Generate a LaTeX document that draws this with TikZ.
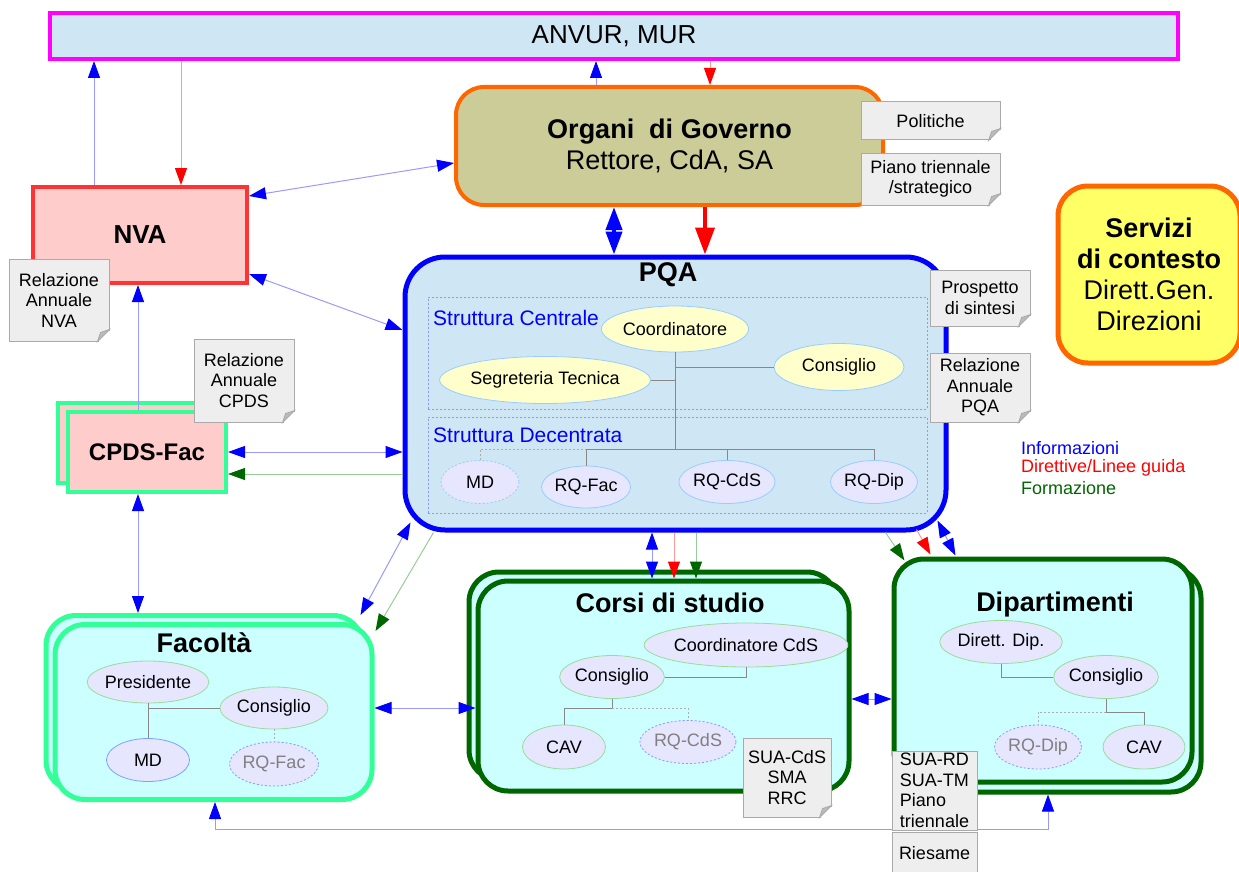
\documentclass[tikz,border=0pt]{standalone}
\usepackage{fontspec}
\setmainfont{Liberation Sans}
\usetikzlibrary{arrows.meta,positioning,shapes.geometric,calc}

\definecolor{skyfill}{HTML}{CFE6F4}
\definecolor{anvurpink}{HTML}{FF00FF}
\definecolor{govorange}{HTML}{FF6600}
\definecolor{govfill}{HTML}{CCCC99}
\definecolor{nvared}{HTML}{FF3333}
\definecolor{nvafill}{HTML}{FFCCCC}
\definecolor{facgreen}{HTML}{33FF99}
\definecolor{cyanfill}{HTML}{CCFFFF}
\definecolor{darkgreen}{HTML}{006600}
\definecolor{servfill}{HTML}{FFFF66}
\definecolor{notefill}{HTML}{EEEEEE}
\definecolor{notedraw}{HTML}{AAAAAA}
\definecolor{folddark}{HTML}{BBBBBB}
\definecolor{ellyellow}{HTML}{FFFFCC}
\definecolor{elllav}{HTML}{E6E6FF}
\definecolor{ellblue}{HTML}{99CCFF}
\definecolor{ellgreen}{HTML}{99DD99}
\definecolor{dashblue}{HTML}{8899FF}
\definecolor{infoblue}{HTML}{0000FF}
\definecolor{dirred}{HTML}{FF0000}
\definecolor{lineblue}{HTML}{9999FF}
\definecolor{linered}{HTML}{FF9999}
\definecolor{linegreen}{HTML}{99CC99}
\definecolor{orggray}{HTML}{888888}

\newcommand{\fbig}{\fontsize{27}{31}\selectfont}
\newcommand{\fnote}{\fontsize{18}{20.5}\selectfont}
\newcommand{\fstruct}{\fontsize{21}{24}\selectfont}

\tikzset{
  ib/.tip={Triangle[length=17pt,width=12pt,color=infoblue,fill=infoblue]},
  dr/.tip={Triangle[length=17pt,width=12pt,color=dirred,fill=dirred]},
  fg/.tip={Triangle[length=17pt,width=12pt,color=darkgreen,fill=darkgreen]},
  ibb/.tip={Triangle[length=23pt,width=16pt,color=infoblue,fill=infoblue]},
  drb/.tip={Triangle[length=27pt,width=19pt,color=dirred,fill=dirred]},
  infoline/.style={draw=lineblue, line width=1pt},
  dirline/.style={draw=linered, line width=1pt},
  formline/.style={draw=linegreen, line width=1pt},
  orgline/.style={draw=orggray, line width=0.8pt},
  orgdots/.style={draw=orggray!70, line width=0.8pt, dash pattern=on 2pt off 2pt},
  anvurbox/.style={rectangle, draw=anvurpink, line width=4pt, fill=skyfill, minimum width=1128pt, minimum height=46pt, font=\fontsize{26}{30}\selectfont},
  govbox/.style={rectangle, rounded corners=28pt, draw=govorange, line width=4pt, fill=govfill, minimum width=427pt, minimum height=118pt, font=\fbig},
  nvabox/.style={rectangle, draw=nvared, line width=4pt, fill=nvafill, minimum width=214pt, minimum height=96pt, font=\fontsize{26}{30}\selectfont\bfseries},
  cpdsbox/.style={rectangle, draw=facgreen, line width=4pt, fill=nvafill, minimum width=158pt, minimum height=80pt, font=\fontsize{24}{28}\selectfont\bfseries},
  pqabox/.style={rectangle, rounded corners=40pt, draw=infoblue, line width=5pt, fill=skyfill, minimum width=541pt, minimum height=273pt},
  structbox/.style={rectangle, draw=dashblue, line width=0.8pt, dash pattern=on 2pt off 2pt, minimum width=499pt},
  structlabel/.style={anchor=west, text=infoblue, font=\fstruct},
  servbox/.style={rectangle, rounded corners=30pt, draw=govorange, line width=5pt, fill=servfill, minimum width=182pt, minimum height=177pt, font=\fbig},
  facbox/.style={rectangle, rounded corners=30pt, draw=facgreen, line width=5pt, fill=cyanfill, minimum width=317pt, minimum height=175pt},
  cdsbox/.style={rectangle, rounded corners=30pt, draw=darkgreen, line width=5pt, fill=cyanfill},
  boxtitle/.style={font=\fbig\bfseries},
  yellell/.style={ellipse, draw=ellblue, line width=0.8pt, fill=ellyellow, font=\fnote},
  lavell/.style={ellipse, draw=ellblue, line width=0.8pt, fill=elllav, font=\fnote},
  greenell/.style={ellipse, draw=ellgreen, line width=0.8pt, fill=elllav, font=\fnote},
  dashell/.style={ellipse, draw=dashblue, line width=0.8pt, dash pattern=on 2pt off 2pt, fill=elllav, text=gray, font=\fnote},
  notebox/.style={rectangle, draw=notedraw, line width=1pt, fill=notefill, font=\fnote},
  legendtext/.style={anchor=west, font=\fnote},
}

\begin{document}
\begin{tikzpicture}[x=1pt,y=1pt,yscale=-1,every node/.style={inner sep=0pt,align=center}]
\useasboundingbox (0,0) rectangle (1239,872);

% ministry and governance
\node[anvurbox] (anvur) at (614,36) {ANVUR, MUR};
\node[govbox] (organi) at (669.5,146) {\textbf{Organi~ di Governo}\\Rettore, CdA, SA};
\node[nvabox] (nva) at (140,235) {NVA};
\node[cpdsbox] (cpdsback) at (137,443) {};
\node[cpdsbox] (cpds) at (147,452) {CPDS-Fac};
\node[servbox] (servizi) at (1149,274.5) {\textbf{Servizi}\\\textbf{di contesto}\\Dirett.Gen.\\Direzioni};

% PQA
\node[pqabox] (pqa) at (675.5,393.5) {};
\node[boxtitle] (pqatitle) at (668,275) {PQA};
\node[structbox, minimum height=112pt] (centrale) at (677.5,353) {};
\node[structbox, minimum height=96pt] (decentrata) at (677.5,465) {};
\node[structlabel] (centlab) at (433,318) {Struttura Centrale};
\node[structlabel] (declab) at (433,435) {Struttura Decentrata};
\node[yellell, minimum width=129pt, minimum height=46pt] (coord) at (675,329) {Coordinatore};
\node[yellell, minimum width=172pt, minimum height=47pt] (segr) at (545,380) {Segreteria Tecnica};
\node[yellell, minimum width=130pt, minimum height=47pt] (pqacons) at (839,367) {Consiglio};
\node[lavell, dash pattern=on 2pt off 2pt, minimum width=78pt, minimum height=43pt] (md) at (480,482) {MD};
\node[lavell, minimum width=82pt, minimum height=42pt] (rqfac) at (586,487) {RQ-Fac};
\node[lavell, minimum width=87pt, minimum height=43pt] (rqcds) at (727,482) {RQ-CdS};
\node[lavell, minimum width=87pt, minimum height=43pt] (rqdip) at (874,482) {RQ-Dip};
\coordinate (pqabus) at ($(rqcds.north)+(0,-11)$);
\draw[orgline] (coord.south) -- (coord.south |- pqabus);
\draw[orgline] (segr.east) -- (segr.east -| coord.south);
\draw[orgline] (pqacons.west) -- (pqacons.west -| coord.south);
\draw[orgline] (rqfac.north) |- (rqdip.north |- pqabus) -- (rqdip.north);
\draw[orgline] (rqcds.north) -- (rqcds.north |- pqabus);
\draw[orgdots] (md.north) |- (rqfac.north |- pqabus);

% Facolta
\node[facbox] (facback) at (204.5,703) {};
\node[facbox] (fac) at (213.5,712) {};
\node[boxtitle] (factitle) at (204,643) {Facoltà};
\node[greenell, minimum width=109pt, minimum height=42pt] (pres) at (148,682) {Presidente};
\node[greenell, minimum width=108pt, minimum height=42pt] (facons) at (274,708) {Consiglio};
\node[lavell, draw=ellblue!80!blue, minimum width=83pt, minimum height=43pt] (mdfac) at (148,760) {MD};
\node[dashell, minimum width=82pt, minimum height=44pt] (rqfacf) at (274,764) {RQ-Fac};
\draw[orgline] (pres.south) -- (mdfac.north);
\draw[orgline] (facons.west) -- (facons.west -| pres.south);
\draw[orgdots] (facons.south) -- (rqfacf.north);

% Corsi di studio
\node[cdsbox, minimum width=368pt, minimum height=208pt] (cdsback) at (653,676) {};
\node[cdsbox, minimum width=371pt, minimum height=210pt] (cds) at (663.5,686) {};
\node[boxtitle] (cdstitle) at (670,603) {Corsi di studio};
\node[greenell, minimum width=169pt, minimum height=44pt] (coordcds) at (746,645) {Coordinatore CdS};
\node[greenell, minimum width=100pt, minimum height=43pt] (cdscons) at (612,677) {Consiglio};
\node[greenell, minimum width=83pt, minimum height=44pt] (cdscav) at (564,747) {CAV};
\node[dashell, minimum width=87pt, minimum height=43pt] (cdsrq) at (688,742) {RQ-CdS};
\draw[orgline] (cdscons.east) -| (coordcds.south);
\draw[orgline] (cdscons.south) -- ++(0,9) -| (cdscav.north);
\draw[orgdots] ($(cdscons.south)+(0,9)$) -| (cdsrq.north);

% Dipartimenti
\node[cdsbox, minimum width=298pt, minimum height=224pt] (dipback) at (1052,680) {};
\node[cdsbox, minimum width=298pt, minimum height=223pt] (dip) at (1043,670.5) {};
\node[boxtitle] (diptitle) at (1055,605) {Dipartimenti};
\node[greenell, minimum width=117pt, minimum height=43pt] (dirdip) at (1001,642) {Dirett. Dip.};
\node[greenell, minimum width=99pt, minimum height=43pt] (dipcons) at (1106,677) {Consiglio};
\node[dashell, minimum width=87pt, minimum height=44pt] (diprq) at (1038,747) {RQ-Dip};
\node[greenell, minimum width=82pt, minimum height=44pt] (dipcav) at (1144,747) {CAV};
\draw[orgline] (dirdip.south) |- (dipcons.west);
\draw[orgline] (dipcons.south) -- ++(0,13) -| (dipcav.north);
\draw[orgdots] ($(dipcons.south)+(0,13)$) -| (diprq.north);

% legend
\node[legendtext, text=infoblue] (leginfo) at (1021,448) {Informazioni};
\node[legendtext, text=dirred] (legdir) at (1021,468) {Direttive/Linee guida};
\node[legendtext, text=darkgreen] (legform) at (1021,488) {Formazione};

% connectors
\draw[infoline, -{ib}] ([xshift=-46pt]nva.north) -- ([xshift=-46pt]nva.north |- anvur.south);
\draw[dirline, -{dr}] ([xshift=41pt]nva.north |- anvur.south) -- ([xshift=41pt]nva.north);
\draw[infoline, -{ib}] ([xshift=-73.5pt]organi.north) -- ([xshift=-73.5pt]organi.north |- anvur.south);
\draw[dirline, -{dr}] ([xshift=40.5pt]organi.north |- anvur.south) -- ([xshift=40.5pt]organi.north);
\draw[infoline, {ib}-{ib}] ($(nva.north east)+(0,11)$) -- ($(organi.west)+(0,17)$);
\draw[draw=infoblue, line width=4pt, {ibb}-{ibb}] ([xshift=-55.5pt]organi.south) -- ([xshift=-55.5pt]organi.south |- pqa.north);
\draw[draw=dirred, line width=4pt, -{drb}] ([xshift=35.5pt]organi.south) -- ([xshift=35.5pt]organi.south |- pqa.north);
\draw[infoline, {ib}-{ib}] ($(nva.south east)+(0,-11)$) -- ($(pqa.west)+(0,-63.5)$);
\draw[infoline, -{ib}] ([xshift=-9pt]cpds.north) -- ([xshift=-9pt]cpds.north |- nva.south);
\draw[infoline, {ib}-{ib}] (cpds.east) -- (cpds.east -| pqa.west);
\draw[formline, -{fg}] ($(cpds.east -| pqa.west)+(0,22)$) -- ($(cpds.east)+(0,22)$);
\draw[infoline, {ib}-{ib}] ([xshift=-9pt]cpds.south) -- ([xshift=-9pt]cpds.south |- facback.north);
\draw[infoline, {ib}-{ib}] ($(pqa.south west)+(8,-10)$) -- ($(facback.north east)+(-5,2)$);
\draw[formline, -{fg}] ($(pqa.south west)+(31,0)$) -- ($(fac.north east)+(1,9)$);
\draw[infoline, {ib}-{ib}] ([xshift=-23.5pt]pqa.south) -- ([xshift=-23.5pt]pqa.south |- cds.north);
\draw[dirline, -{dr}] ([xshift=-1.5pt]pqa.south) -- ([xshift=-1.5pt]pqa.south |- cds.north);
\draw[formline, -{fg}] ([xshift=20.5pt]pqa.south) -- ([xshift=20.5pt]pqa.south |- cds.north);
\draw[formline, -{fg}] ($(pqa.south east)+(-63,0)$) -- ($(dip.north west)+(13,4)$);
\draw[dirline, -{dr}] ($(pqa.south east)+(-32,-3)$) -- ($(dip.north west)+(39,-2)$);
\draw[infoline, {ib}-{ib}] ($(pqa.south east)+(-11,-12)$) -- ($(dip.north west)+(64,-1)$);
\coordinate (facexit) at ($(fac.east)+(0,-4)$);
\draw[infoline, {ib}-{ib}] (facexit) -- (facexit -| cds.west);
\coordinate (cdsexit) at ($(cds.east)+(0,13)$);
\draw[infoline, {ib}-{ib}] (cdsexit) -- (cdsexit -| dip.west);
\coordinate (busline) at (0,829);
\draw[infoline, {ib}-{ib}] ([xshift=1.5pt]fac.south) -- ([xshift=1.5pt]fac.south |- busline) -| ([xshift=-4pt]dipback.south);

% documents
\node[notebox, minimum width=139pt, minimum height=38pt] (polit) at (930.5,121) {Politiche};
\node[notebox, minimum width=139pt, minimum height=52pt] (piano) at (930.5,179) {Piano triennale\\/strategico};
\node[notebox, minimum width=100pt, minimum height=82pt] (relnva) at (59,300) {Relazione\\Annuale\\NVA};
\node[notebox, minimum width=100pt, minimum height=83pt] (relcpds) at (244,380.5) {Relazione\\Annuale\\CPDS};
\node[notebox, minimum width=100pt, minimum height=56pt] (prosp) at (980,298) {Prospetto\\di sintesi};
\node[notebox, minimum width=100pt, minimum height=69pt] (relpqa) at (980,387.5) {Relazione\\Annuale\\PQA};
\node[notebox, minimum width=88pt, minimum height=79pt] (sua) at (787,777.5) {SUA-CdS\\SMA\\RRC};
\node[notebox, align=left, minimum width=85pt, minimum height=79pt] (suard) at (934.5,790.5) {SUA-RD\\SUA-TM\\Piano\\triennale};
\node[notebox, minimum width=85pt, minimum height=42pt] (ries) at (934.5,853) {Riesame};
\foreach \n in {polit,piano,relnva,relcpds,prosp,relpqa,sua} {
  \fill[white] ($(\n.south east)+(-12,1.5)$) -- ($(\n.south east)+(1.5,1.5)$) -- ($(\n.south east)+(1.5,-12)$) -- cycle;
  \filldraw[draw=notedraw, fill=folddark, line width=0.8pt] ($(\n.south east)+(-12,0)$) -- ($(\n.south east)+(0,-12)$) -- ($(\n.south east)+(-9,-9)$) -- cycle;
}

\end{tikzpicture}
\end{document}
